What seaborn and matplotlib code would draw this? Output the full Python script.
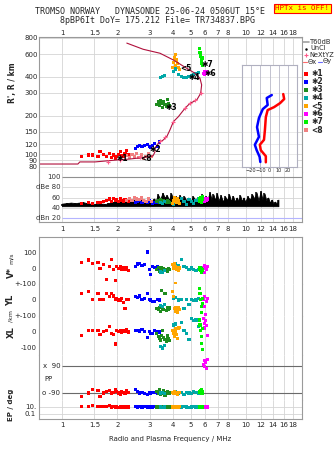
import numpy as np
import pandas as pd
import matplotlib
matplotlib.use("Agg")
import matplotlib.pyplot as plt
import seaborn as sns
from matplotlib.lines import Line2D
from matplotlib.ticker import FixedLocator, FixedFormatter, NullLocator, NullFormatter

# ---------------- data ----------------
FREQ_TICKS = [1, 1.5, 2, 3, 4, 5, 6, 7, 8, 10, 12, 14, 16, 18]
FREQ_LABELS = ["1", "1.5", "2", "3", "4", "5", "6", "7", "8", "10", "12", "14", "16", "18"]
HEIGHT_TICKS = [80, 90, 100, 120, 150, 200, 300, 400, 600, 800]

# NeXtYZ electron-density profile (plasma frequency MHz, height km)
profile_f = [0.75, 1.22, 1.25, 1.51, 1.99, 2.34, 2.75, 3.12, 3.20, 3.20, 3.34, 3.55, 3.71, 3.86,
             4.03, 4.29, 4.66, 4.96, 5.40, 5.67, 5.74, 5.62, 5.28, 4.76, 4.03, 3.41, 2.76, 2.25]
profile_h = [84.3, 84.3, 87.5, 87.5, 90.6, 92.2, 94.6, 97.3, 104.5, 112.3, 122.1, 129.5, 137.4, 154.8,
             179.5, 196.3, 228, 249, 264.5, 298, 346, 390, 426, 466, 540, 609, 654, 730]
nexyz_f = [1.78, 2.07, 2.65, 3.41, 3.63, 4.03, 4.66, 4.96, 5.28, 5.67]
nexyz_h = [88, 91, 95, 127, 136, 180, 228, 249, 262, 298]

# Tilt profiles (deg vs height km)
tiltx_h = [294, 269, 250, 233, 221, 195, 155, 130, 119, 108, 97, 87]
tiltx = [15, 16, 11.5, 5, -2, -4, -5, -6, -10.5, -9.5, -4, -4]
tilty_h = [289, 274, 242, 225, 192, 163, 137, 119, 108, 96, 87.5]
tilty = [2.5, -3, -2, -7.3, -11.5, -13.6, -11.5, -16, -14, -10.8, -10]

# Echo clusters: frequency, virtual height, V*, YL, XL, PP, EP, amplitude
c1_f = [1.28, 1.39, 1.47, 1.57, 1.61, 1.68, 1.75, 1.82, 1.86, 1.90, 1.95, 1.98, 2.03, 2.07, 2.11, 2.15, 2.20, 2.25, 2.29]
c1_h = [96, 99, 99, 97, 105, 100, 96, 102, 94, 99, 93, 97, 100, 105, 98, 96, 101, 108, 99]
c1_v = [33, 50, 30, 35, -5, 20, -70, 8, 55, -12, -80, 10, -3, 12, -8, 0, -10, 5, -15]
c1_yl = [42, 52, 4, 38, 3, 2, 38, 20, 42, 25, 5, 10, 0, -5, 8, -15, -52, 2, 4]
c1_xl = [-23, 8, 12, 8, -18, 2, 12, 33, -8, -18, -75, 12, 2, 8, -5, 10, 5, 15, 0]
c1_pp = [-112, -90, -64, -75, -112, -90, -80, -74, -90, -86, -70, -80, -90, -100, -78, -85, -92, -74, -88]
c1_ep = [15, 14, 30, 13, 12, 14, 11, 25, 10, 11, 9, 10, 9, 10, 11, 9, 10, 9, 10]
c1_db = [48, 50, 49, 51, 50, 52, 55, 57, 53, 58, 54, 56, 52, 57, 55, 53, 56, 54, 52]

c2_f = [2.50, 2.58, 2.65, 2.72, 2.80, 2.90, 2.98, 3.04, 3.10, 3.18, 3.30, 3.38]
c2_h = [112, 115, 117, 116, 118, 120, 116, 114, 118, 121, 115, 125]
c2_v = [12, 25, 28, 15, 20, 100, -12, -38, 8, 5, 10, 0]
c2_yl = [20, 14, 25, 5, 12, 42, 5, 0, -8, -12, 3, 0]
c2_xl = [8, 12, 6, 18, 5, -33, 2, -8, -12, 12, 4, 0]
c2_pp = [-64, -80, -90, -86, -95, -100, -90, -95, -88, -84, -90, -92]
c2_ep = [11, 10, 12, 10, 11, 10, 9, 12, 10, 11, 10, 10]
c2_db = [50, 52, 54, 51, 53, 50, 55, 52, 49, 51, 50, 52]

c3_f = [3.28, 3.33, 3.38, 3.43, 3.48, 3.53, 3.58, 3.63, 3.68, 3.73, 3.78, 3.84]
c3_h = [245, 255, 238, 262, 250, 232, 258, 244, 236, 266, 248, 240]
c3_v = [-10, 5, -20, -12, 0, -25, -5, -15, -8, -20, -3, -12]
c3_yl = [-52, -62, -45, -70, 62, -55, -58, 40, -65, -48, -60, -50]
c3_xl = [-8, -30, -40, -50, -20, 12, -35, -45, -60, -25, -40, -55]
c3_pp = [-80, -95, -70, -100, -85, -90, -75, -105, -88, -82, -95, -90]
c3_ep = [10, 9, 11, 10, 9, 12, 10, 9, 10, 11, 9, 10]
c3_db = [52, 54, 50, 56, 53, 51, 55, 52, 50, 54, 53, 51]

c4_f = [3.42, 3.52, 3.62, 4.05, 4.15, 4.30, 4.45, 4.60, 4.75, 4.90, 5.05, 5.20, 5.35, 5.50]
c4_h = [395, 405, 412, 440, 460, 420, 400, 392, 398, 405, 410, 415, 425, 432]
c4_v = [-25, -30, -15, 20, 28, 18, 54, 12, 5, -8, 0, -12, -18, -10]
c4_yl = [-35, -42, -30, 10, 18, 0, 5, -52, 2, -30, 4, -2, 0, 10]
c4_xl = [-92, -100, -85, 44, 50, 30, 60, 10, -8, -48, 85, 70, 75, 35]
c4_pp = [-90, -85, -95, -88, -80, -92, -86, -100, -84, -90, -95, -82, -88, -92]
c4_ep = [10, 9, 10, 11, 10, 9, 10, 11, 10, 9, 10, 11, 10, 9]
c4_db = [50, 48, 52, 46, 55, 50, 58, 53, 47, 56, 52, 49, 54, 57]

c5_f = [4.00, 4.04, 4.08, 4.12, 4.16, 4.20, 4.25, 4.30, 4.35]
c5_h = [470, 520, 560, 600, 490, 540, 505, 470, 455]
c5_v = [20, 0, 28, -96, 10, -8, 5, -15, 0]
c5_yl = [52, 20, -52, -72, -45, -60, -80, -50, -62]
c5_xl = [12, -8, -30, 22, 2, -15, -40, 25, 30]
c5_pp = [-88, -92, -80, -95, -85, -90, -100, -84, -88]
c5_ep = [10, 11, 9, 10, 12, 10, 9, 10, 11]
c5_db = [48, 55, 60, 52, 57, 50, 58, 54, 49]

c6_f = [5.85, 5.92, 5.98, 6.05, 6.10, 6.18]
c6_h = [425, 438, 420, 432, 440, 428]
c6_v = [0, 15, -30, 5, -10, 8]
c6_yl = [2, 22, -40, -94, -10, 10]
c6_xl = [85, 55, 25, 70, 40, -20]
c6_pp = [100, 122, 85, 110, 70, 128]
c6_ep = [11, 10, 12, 10, 11, 10]
c6_db = [55, 58, 52, 56, 54, 57]

c7_f = [5.58, 5.62, 5.66, 5.70, 5.74, 5.78, 5.82]
c7_h = [660, 620, 580, 540, 510, 490, 560]
c7_v = [-12, 0, -18, -30, -5, -15, -8]
c7_yl = [73, 42, 2, -40, -80, 10, -20]
c7_xl = [75, 44, 12, -30, -70, -108, 20]
c7_pp = [-80, -85, -75, -90, -70, -95, -82]
c7_ep = [10, 11, 10, 9, 10, 11, 10]
c7_db = [52, 58, 60, 55, 50, 62, 57]

c8_f = [2.25, 2.32, 2.40, 2.48, 2.55, 2.62, 2.70, 2.78, 2.86, 2.95, 3.05]
c8_h = [98, 94, 100, 96, 102, 95, 99, 93, 97, 101, 96]
c8_db = [55, 58, 54, 60, 57, 56, 59, 55, 53, 57, 52]

CLUSTERS = ["✱1", "✱2", "✱3", "✱4", "<5", "✱6", "✱7", "<8"]
COLORS = ["#ff0000", "#0000ff", "#1e8c1e", "#00a8a8", "#ffa500", "#ff00ff", "#00f000", "#f08080"]
label_f = [1.98, 2.97, 3.63, 4.84, 4.38, 5.98, 5.74, 2.65]
label_h = [93, 110, 233, 392, 468, 428, 494, 93]

# T60dB amplitude envelope
dbe_f = [1.00, 1.06, 1.12, 1.18, 1.24, 1.30, 1.36, 1.42, 1.48, 1.54,
         1.60, 1.66, 1.72, 1.78, 1.85, 1.92, 2.00, 2.15, 2.30, 2.45,
         2.60, 2.75, 2.90, 3.00, 3.08, 3.16, 3.24, 3.32, 3.42, 3.52,
         3.62, 3.72, 3.82, 3.92, 4.02, 4.14, 4.26, 4.38, 4.50, 4.62,
         4.74, 4.86, 5.00, 5.15, 5.30, 5.45, 5.60, 5.75, 5.90, 6.05,
         6.20, 6.35, 6.50, 6.65, 6.80, 6.95, 7.10, 7.30, 7.50, 7.70,
         7.90, 8.10, 8.30, 8.50, 8.70, 8.90, 9.10, 9.30, 9.50, 9.70,
         9.90, 10.2, 10.5, 10.8, 11.1, 11.4, 11.7, 12.0, 12.3, 12.6,
         12.9, 13.2, 13.5, 13.8, 14.1, 14.4, 14.7, 15.0]
dbe_top = [48, 49, 50, 49, 50, 51, 49, 48, 47, 48,
           47, 48, 47, 49, 50, 52, 53, 54, 55, 56,
           55, 57, 54, 53, 52, 58, 54, 66, 57, 69,
           60, 64, 55, 68, 57, 62, 55, 64, 52, 62,
           54, 60, 52, 62, 56, 60, 52, 66, 55, 62,
           58, 70, 56, 66, 55, 68, 54, 64, 52, 62,
           55, 66, 53, 63, 52, 60, 54, 64, 53, 60,
           52, 62, 56, 66, 58, 70, 54, 72, 56, 68,
           54, 60, 50, 56, 48, 52, 47, 56]
DBE_FLOOR = 43

# ---------------- figure ----------------
sns.set_theme(style="white")
plt.rcParams["font.family"] = ["DejaVu Sans"]
W, H = 335, 451
fig = plt.figure(figsize=(W / 100, H / 100), dpi=100)
GRID = "#d4d4d4"
FRAME = "#9a9a9a"
FS = 5


def rect(x0, y0, x1, y1):
    return [x0 / W, 1 - y1 / H, (x1 - x0) / W, (y1 - y0) / H]


def freq_axis(ax, show=None, pad=2):
    ax.set_xscale("log")
    ax.set_xlim(0.75, 20.15)
    ax.xaxis.set_major_locator(FixedLocator(FREQ_TICKS))
    ax.xaxis.set_minor_locator(NullLocator())
    ax.xaxis.set_major_formatter(FixedFormatter(FREQ_LABELS))
    for f in FREQ_TICKS:
        ax.axvline(f, color=GRID, lw=0.6, zorder=0)
    ax.tick_params(axis="both", length=0, labelsize=FS, pad=pad)
    if show == "top":
        ax.xaxis.tick_top()
        ax.tick_params(axis="x", labeltop=True, labelbottom=False, length=0)
    elif show == "bottom":
        ax.tick_params(axis="x", labeltop=False, labelbottom=True)
    else:
        ax.tick_params(axis="x", labeltop=False, labelbottom=False)
    for s in ax.spines.values():
        s.set_color(FRAME)
        s.set_linewidth(0.8)


rows = []
for name, f, h, v, yl, xl, pp, ep, db in [
    ("✱1", c1_f, c1_h, c1_v, c1_yl, c1_xl, c1_pp, c1_ep, c1_db),
    ("✱2", c2_f, c2_h, c2_v, c2_yl, c2_xl, c2_pp, c2_ep, c2_db),
    ("✱3", c3_f, c3_h, c3_v, c3_yl, c3_xl, c3_pp, c3_ep, c3_db),
    ("✱4", c4_f, c4_h, c4_v, c4_yl, c4_xl, c4_pp, c4_ep, c4_db),
    ("<5", c5_f, c5_h, c5_v, c5_yl, c5_xl, c5_pp, c5_ep, c5_db),
    ("✱6", c6_f, c6_h, c6_v, c6_yl, c6_xl, c6_pp, c6_ep, c6_db),
    ("✱7", c7_f, c7_h, c7_v, c7_yl, c7_xl, c7_pp, c7_ep, c7_db),
]:
    rows.append(pd.DataFrame({"cl": name, "f": f, "h": h, "v": v, "yl": yl, "xl": xl,
                              "pp": pp, "ep": ep, "db": db}))
rows.append(pd.DataFrame({"cl": "<8", "f": c8_f, "h": c8_h, "db": c8_db}))
df = pd.concat(rows, ignore_index=True)
pal = dict(zip(CLUSTERS, COLORS))
SQ = dict(marker="s", s=5, linewidth=0, legend=False, palette=pal, hue="cl", hue_order=CLUSTERS)

# ---- main height panel ----
ax = fig.add_axes(rect(39, 37, 302, 172))
freq_axis(ax, show="top", pad=1)
ax.set_yscale("log")
ax.set_ylim(73.1, 814)
ax.yaxis.set_major_locator(FixedLocator(HEIGHT_TICKS))
ax.yaxis.set_minor_locator(NullLocator())
ax.yaxis.set_major_formatter(FixedFormatter([str(t) for t in HEIGHT_TICKS]))
for t in HEIGHT_TICKS:
    ax.axhline(t, color=GRID, lw=0.6, zorder=0)
ax.spines["bottom"].set_visible(False)
sns.lineplot(x=profile_f, y=profile_h, sort=False, estimator=None, color="#b0103c", lw=0.8, ax=ax)
ax.plot(nexyz_f, nexyz_h, ls="", marker="+", ms=3.5, mew=0.8, color="#ff5a8a")
sns.scatterplot(data=df, x="f", y="h", ax=ax, **SQ)
for name, lf, lh in zip(CLUSTERS, label_f, label_h):
    ax.text(lf, lh, name, fontsize=5.5, fontweight="bold", color="black", ha="left", va="center")
ax.set_xlabel("")
ax.set_ylabel("")
fig.text(12 / W, 1 - 83 / H, "R', R / km", rotation=90, ha="center", va="center", fontsize=5.5,
         fontweight="bold")

# ---- tilt inset ----
axi = fig.add_axes(rect(242, 65, 297, 167))
axi.set_facecolor("white")
axi.set_yscale("log")
axi.set_ylim(80, 494)
axi.set_xlim(-30, 30)
axi.yaxis.set_major_locator(NullLocator())
axi.yaxis.set_minor_locator(NullLocator())
for t in [100, 120, 150, 200, 300, 400]:
    axi.axhline(t, color="#e2e2e2", lw=0.5, zorder=0)
for t in [-20, -10, 0, 10, 20]:
    axi.axvline(t, color="#b8b8c8", lw=0.6, zorder=0)
axi.xaxis.set_major_locator(FixedLocator([-20, -10, 0, 10, 20]))
axi.tick_params(axis="x", length=0, labelsize=3.6, pad=1)
for s in axi.spines.values():
    s.set_color("#b0b0c0")
    s.set_linewidth(0.8)
sns.lineplot(x=tiltx, y=tiltx_h, sort=False, estimator=None, color="#ff0000", lw=1.8, ax=axi)
sns.lineplot(x=tilty, y=tilty_h, sort=False, estimator=None, color="#0000ff", lw=1.8, ax=axi)
axi.set_xlabel("Tilt / deg", fontsize=4.0, labelpad=0)
axi.set_ylabel("")

# ---- amplitude panel ----
axd = fig.add_axes(rect(39, 172, 302, 222))
freq_axis(axd, show="bottom", pad=3)
axd.set_ylim(12, 110)
axd.set_yticks([])
axd.spines["top"].set_visible(False)
axd.hlines([80, 60, 40], 1.0, 20.15, color=GRID, lw=0.6, zorder=0)
axd.hlines([100], 1.0, 20.15, color="#909090", lw=0.8, zorder=0)
axd.hlines([20], 1.0, 20.15, color="#b4b4ff", lw=0.8, zorder=0)
axd.fill_between(dbe_f, DBE_FLOOR, dbe_top, color="black", lw=0.6, zorder=2)
axd.vlines(dbe_f, DBE_FLOOR, dbe_top, color="black", lw=1.1, zorder=2)
sns.scatterplot(data=df, x="f", y="db", ax=axd, zorder=3, **SQ)
axd.set_xlabel("")
axd.set_ylabel("")
for val, lab in [(100, "100"), (80, "dBe 80"), (60, "60"), (40, "40"), (20, "dBn 20")]:
    axd.text(0.98, val, lab, ha="right", va="center", fontsize=FS, color="#333333")

# ---- lower stacked panels ----
specs = [
    ("v", 237, 284, (-100, 194), [100, 0, -100], ["100", "0", "+-100"], "linear"),
    ("yl", 284, 316, (-100, 100), [0, -100], ["0", "+-100"], "linear"),
    ("xl", 316, 355, (-144, 100), [0, -100], ["0", "-100"], "linear"),
    ("pp", 355, 400, (-136, 160), [], [], "linear"),
    ("ep", 400, 419, (0.0037, 1000), [10, 0.1], ["10.", "0.1"], "log"),
]
for i, (col, y0, y1, lim, ticks, labels, scale) in enumerate(specs):
    a = fig.add_axes(rect(39, y0, 302, y1))
    freq_axis(a, show="bottom" if col == "ep" else None, pad=2)
    a.set_yscale(scale)
    a.set_ylim(*lim)
    a.yaxis.set_major_locator(FixedLocator(ticks))
    a.yaxis.set_minor_locator(NullLocator())
    a.yaxis.set_major_formatter(FixedFormatter(labels))
    if i > 0:
        a.spines["top"].set_visible(False)
    if col != "ep":
        a.spines["bottom"].set_visible(False)
    if col == "pp":
        a.hlines([90, -90], 1.0, 20.15, color="#6a6a6a", lw=0.8, zorder=1)
        a.text(0.98, 90, "x  90", ha="right", va="center", fontsize=FS)
        a.text(0.98, -90, "o -90", ha="right", va="center", fontsize=FS)
        a.text(0.80, 5, "PP", ha="left", va="center", fontsize=FS)
    if col == "ep":
        a.axhline(10, color=GRID, lw=0.6, zorder=0)
        a.axhline(0.1, color=GRID, lw=0.6, zorder=0)
    sns.scatterplot(data=df, x="f", y=col, ax=a, zorder=3, **SQ)
    a.set_xlabel("")
    a.set_ylabel("")

fig.text(170 / W, 1 - 439 / H, "Radio and Plasma Frequency / MHz", ha="center", va="center", fontsize=5)
for txt, y, fs, bold in [("V*", 272, 6, True), ("m/s", 258, 4.5, False), ("YL", 300, 6, True),
                         ("/km", 316, 4.5, False), ("XL", 332, 6, True), ("EP / deg", 405, 5, True)]:
    fig.text(11 / W, 1 - y / H, txt, rotation=90, ha="center", va="center", fontsize=fs,
             fontweight="bold" if bold else "normal")

# ---- legend (right margin) ----
def fx(x):
    return x / W


def fy(y):
    return 1 - y / H


fig.add_artist(Line2D([fx(303), fx(309)], [fy(42), fy(42)], color="#a0a0a0", lw=1.2))
fig.text(fx(310), fy(42), "T60dB", fontsize=4.8, va="center")
fig.add_artist(Line2D([fx(306)], [fy(48.5)], marker=".", ms=1.5, color="black", ls=""))
fig.text(fx(310), fy(48.5), "UnCl", fontsize=4.8, va="center")
fig.add_artist(Line2D([fx(306)], [fy(55)], marker="+", ms=3.5, mew=0.8, color="#ff5a8a", ls=""))
fig.text(fx(309), fy(55), "NeXtYZ", fontsize=4.8, va="center")
fig.add_artist(Line2D([fx(303), fx(307)], [fy(61.5), fy(61.5)], color="#ff6a6a", lw=0.8))
fig.text(fx(307.5), fy(61.5), "Θx", fontsize=4.8, va="center")
fig.add_artist(Line2D([fx(318), fx(322)], [fy(61.5), fy(61.5)], color="#6a6aff", lw=0.8))
fig.text(fx(322.5), fy(61.5), "Θy", fontsize=4.8, va="center")
for k, (name, col) in enumerate(zip(CLUSTERS, COLORS)):
    yy = 74 + 8 * k
    fig.add_artist(Line2D([fx(306)], [fy(yy)], marker="s", ms=2.6, color=col, ls="", mew=0))
    fig.text(fx(311), fy(yy), name, fontsize=5.5, va="center", fontweight="bold")

# ---- titles ----
fig.text(150 / W, fy(12), "TROMSO NORWAY   DYNASONDE 25-06-24 0506UT 15°E", ha="center", va="center",
         family="DejaVu Sans Mono", fontsize=6)
fig.text(157 / W, fy(20.5), "8pBP6It DoY= 175.212 File= TR734837.BPG", ha="center", va="center",
         family="DejaVu Sans Mono", fontsize=6)
fig.text(302 / W, fy(8), "HPTx is OFF!", ha="center", va="center", family="DejaVu Sans Mono",
         fontsize=5.4, color="red",
         bbox=dict(facecolor="yellow", edgecolor="red", boxstyle="square,pad=0.2", lw=0.8))

fig.savefig("out.png", dpi=100)
